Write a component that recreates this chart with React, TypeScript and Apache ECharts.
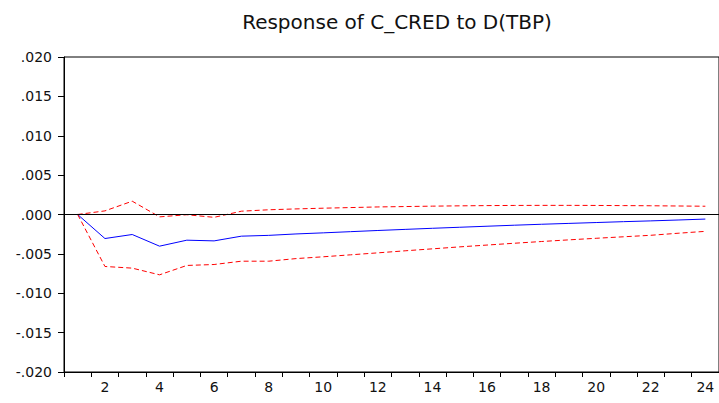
import React, { useEffect, useRef } from "react";
import * as echarts from "echarts";

const periods = Array.from({ length: 24 }, (_, i) => String(i + 1));
const response = [0, -0.00305, -0.00254, -0.00402, -0.00326, -0.00335, -0.00275, -0.00265, -0.00247, -0.00233, -0.00218, -0.00203, -0.00189, -0.00175, -0.00162, -0.00149, -0.00136, -0.00124, -0.00113, -0.00102, -0.00091, -0.00081, -0.00070, -0.00058];
const upperBand = [0, 0.00046, 0.00169, -0.0003, -0.00003, -0.00036, 0.00042, 0.0006, 0.00071, 0.0008, 0.00088, 0.00096, 0.00101, 0.00106, 0.0011, 0.00113, 0.00115, 0.00116, 0.00116, 0.00115, 0.00113, 0.00111, 0.00108, 0.00105];
const lowerBand = [0, -0.0066, -0.00681, -0.00766, -0.00647, -0.00635, -0.00593, -0.00593, -0.0056, -0.00537, -0.00512, -0.00487, -0.00461, -0.00436, -0.00411, -0.00388, -0.00365, -0.00343, -0.00322, -0.00302, -0.00283, -0.00264, -0.00238, -0.00214];
const titleText = "Response of C_CRED to D(TBP)";

const FONT = "'DejaVu Sans', 'Liberation Sans', Arial, sans-serif";

export default function App() {
  const ref = useRef<HTMLDivElement>(null);
  useEffect(() => {
    if (!ref.current) return;
    const chart = echarts.init(ref.current, null, { renderer: "svg" });
    chart.setOption({
      animation: false,
      backgroundColor: "#ffffff",
      title: {
        text: titleText,
        left: 392,
        textAlign: "center",
        top: 7,
        textStyle: { fontFamily: FONT, fontSize: 20, fontWeight: "normal", color: "#111" },
      },
      grid: {
        left: 64,
        top: 57,
        width: 657,
        height: 315,
        show: true,
        borderColor: "#000",
        borderWidth: 1,
        backgroundColor: "transparent",
      },
      xAxis: {
        type: "category",
        data: periods,
        boundaryGap: true,
        axisLine: { show: true, onZero: false, lineStyle: { color: "#000", width: 1 } },
        axisTick: { show: true, interval: 0, length: 5, lineStyle: { color: "#000" } },
        axisLabel: {
          interval: (i: number) => i % 2 === 1,
          fontFamily: FONT,
          fontSize: 14,
          color: "#111",
          margin: 8,
        },
        splitLine: { show: false },
      },
      yAxis: {
        type: "value",
        min: -0.02,
        max: 0.02,
        interval: 0.005,
        axisLine: { show: true, lineStyle: { color: "#000", width: 1 } },
        axisTick: { show: true, length: 6, lineStyle: { color: "#000" } },
        axisLabel: {
          fontFamily: FONT,
          fontSize: 14,
          color: "#111",
          margin: 12,
          formatter: (v: number) => {
            const s = v.toFixed(3);
            return s.replace(/^(-?)0\./, "$1.");
          },
        },
        splitLine: { show: false },
      },
      series: [
        {
          type: "line",
          data: response,
          symbol: "none",
          lineStyle: { color: "#0000ff", width: 1 },
          z: 3,
          markLine: {
            silent: true,
            symbol: "none",
            label: { show: false },
            lineStyle: { color: "#000", width: 1, type: "solid" },
            data: [{ yAxis: 0 }],
          },
        },
        {
          type: "line",
          data: upperBand,
          symbol: "none",
          lineStyle: { color: "#ff0000", width: 1, type: [5, 3] },
          z: 4,
        },
        {
          type: "line",
          data: lowerBand,
          symbol: "none",
          lineStyle: { color: "#ff0000", width: 1, type: [5, 3] },
          z: 4,
        },
      ],
    });
    return () => chart.dispose();
  }, []);
  return (
    <div
      ref={ref}
      style={{ position: "absolute", left: 0, top: 0, width: 719, height: 403 }}
    />
  );
}
